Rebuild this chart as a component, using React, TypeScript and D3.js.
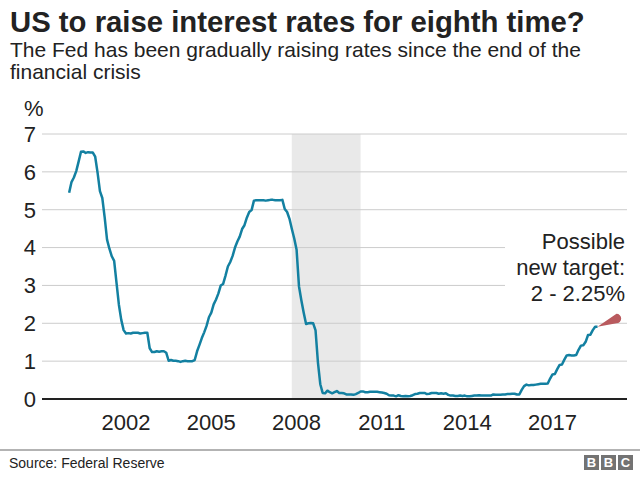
import React from "react";
import * as d3 from "d3";

// Effective federal funds rate, monthly averages (%), Jan 2000 onwards
const years = [2000, 2001, 2002, 2003, 2004, 2005, 2006, 2007, 2008, 2009, 2010, 2011, 2012, 2013, 2014, 2015, 2016, 2017, 2018];
const monthlyRates: number[][] = [
  [5.45, 5.73, 5.85, 6.02, 6.27, 6.53, 6.54, 6.5, 6.52, 6.51, 6.51, 6.4],
  [5.98, 5.49, 5.31, 4.8, 4.21, 3.97, 3.77, 3.65, 3.07, 2.49, 2.09, 1.82],
  [1.73, 1.74, 1.73, 1.75, 1.75, 1.75, 1.73, 1.74, 1.75, 1.75, 1.34, 1.24],
  [1.24, 1.26, 1.25, 1.26, 1.26, 1.22, 1.01, 1.03, 1.01, 1.01, 1.0, 0.98],
  [1.0, 1.01, 1.0, 1.0, 1.0, 1.03, 1.26, 1.43, 1.61, 1.76, 1.93, 2.16],
  [2.28, 2.5, 2.63, 2.79, 3.0, 3.04, 3.26, 3.5, 3.62, 3.78, 4.0, 4.16],
  [4.29, 4.49, 4.59, 4.79, 4.94, 4.99, 5.24, 5.25, 5.25, 5.25, 5.25, 5.24],
  [5.25, 5.26, 5.26, 5.25, 5.25, 5.25, 5.26, 5.02, 4.94, 4.76, 4.49, 4.24],
  [3.94, 2.98, 2.61, 2.28, 1.98, 2.0, 2.01, 2.0, 1.81, 0.97, 0.39, 0.16],
  [0.15, 0.22, 0.18, 0.15, 0.18, 0.21, 0.16, 0.16, 0.15, 0.12, 0.12, 0.12],
  [0.11, 0.13, 0.16, 0.2, 0.2, 0.18, 0.18, 0.19, 0.19, 0.19, 0.19, 0.18],
  [0.17, 0.16, 0.14, 0.1, 0.09, 0.09, 0.07, 0.1, 0.08, 0.07, 0.08, 0.07],
  [0.08, 0.1, 0.13, 0.14, 0.16, 0.16, 0.16, 0.13, 0.14, 0.16, 0.16, 0.16],
  [0.14, 0.15, 0.14, 0.15, 0.11, 0.09, 0.09, 0.08, 0.08, 0.09, 0.08, 0.09],
  [0.07, 0.07, 0.08, 0.09, 0.09, 0.1, 0.09, 0.09, 0.09, 0.09, 0.09, 0.12],
  [0.11, 0.11, 0.11, 0.12, 0.12, 0.13, 0.13, 0.14, 0.14, 0.12, 0.12, 0.24],
  [0.34, 0.38, 0.36, 0.37, 0.37, 0.38, 0.39, 0.4, 0.4, 0.4, 0.41, 0.54],
  [0.65, 0.66, 0.79, 0.9, 0.91, 1.04, 1.15, 1.16, 1.15, 1.15, 1.16, 1.3],
  [1.41, 1.42, 1.51, 1.69, 1.7, 1.82, 1.91, 1.91],
];

// Financial crisis band (decimal years)
const crisisPeriod = [2007.83, 2010.25];

// Possible new target range after the next rise
const targetRange = [2.0, 2.25];
const targetDate = 2019.25;
const targetLabel = ["Possible", "new target:", "2 - 2.25%"];

const yTicks = [0, 1, 2, 3, 4, 5, 6, 7];
const xTicks = [2002, 2005, 2008, 2011, 2014, 2017];

const FONT = "'Liberation Sans', Arial, Helvetica, sans-serif";
const W = 640;
const H = 477;

type Pt = { t: number; v: number };

export default function App() {
  const points: Pt[] = [];
  years.forEach((yr, i) => {
    monthlyRates[i].forEach((v, m) => points.push({ t: yr + m / 12, v }));
  });

  const x = d3.scaleLinear().domain([2002, 2017]).range([126, 552.5]);
  const y = d3.scaleLinear().domain([0, 7]).range([399, 134]);

  const gridLeft = 42;
  const gridRight = 627;
  const labelLeft = 505;
  const labelTop = 225;
  const labelBottom = 305;

  const line = d3
    .line<Pt>()
    .x((d) => x(d.t))
    .y((d) => y(d.v))
    .curve(d3.curveLinear);

  const last = points[points.length - 1];
  const x0 = x(last.t);
  const y0 = y(last.v);
  const x1 = x(targetDate);
  const yHi = y(targetRange[1]);
  const yLo = y(targetRange[0]);
  const r = (yLo - yHi) / 2;
  const wedge = `M${x0},${y0} L${x1},${yHi} A${r},${r} 0 0 1 ${x1},${yLo} Z`;

  return (
    <svg
      width={W}
      height={H}
      style={{ position: "absolute", left: 0, top: 0, background: "#fff" }}
      fontFamily={FONT}
    >
      <rect x={0} y={0} width={W} height={H} fill="#fff" />
      <text x={10} y={32} fontSize={29.3} fontWeight="bold" fill="#222">
        US to raise interest rates for eighth time?
      </text>
      <text x={10} y={57} fontSize={21} fill="#222">
        The Fed has been gradually raising rates since the end of the
      </text>
      <text x={10} y={79} fontSize={21} fill="#222">
        financial crisis
      </text>

      {/* crisis shading */}
      <rect
        x={x(crisisPeriod[0])}
        y={y(7)}
        width={x(crisisPeriod[1]) - x(crisisPeriod[0])}
        height={y(0) - y(7)}
        fill="#e9e9e9"
      />

      {/* gridlines and y labels */}
      {yTicks.map((t) => {
        const yy = y(t);
        const cut = yy > labelTop && yy < labelBottom;
        return (
          <g key={t}>
            {t > 0 && (
              <line
                x1={gridLeft}
                x2={cut ? labelLeft : gridRight}
                y1={yy}
                y2={yy}
                stroke="#cccccc"
                strokeWidth={1}
              />
            )}
            <text x={36} y={yy} dy="0.36em" textAnchor="end" fontSize={22} fill="#222">
              {t}
            </text>
          </g>
        );
      })}
      <text x={24} y={116} fontSize={22} fill="#222">
        %
      </text>

      {/* x labels */}
      {xTicks.map((t) => (
        <text key={t} x={x(t)} y={430} textAnchor="middle" fontSize={22} fill="#222">
          {t}
        </text>
      ))}

      {/* rate line */}
      <path d={line(points) ?? ""} fill="none" stroke="#1380a1" strokeWidth={2.5} strokeLinejoin="round" />

      {/* target wedge */}
      <path d={wedge} fill="#b95a5e" />

      {/* baseline */}
      <line x1={gridLeft} x2={gridRight} y1={y(0)} y2={y(0)} stroke="#222" strokeWidth={2} />

      {/* annotation */}
      {targetLabel.map((s, i) => (
        <text key={s} x={625} y={249 + i * 26} textAnchor="end" fontSize={22} fill="#222">
          {s}
        </text>
      ))}

      {/* footer */}
      <line x1={0} x2={W} y1={450} y2={450} stroke="#b3b3b3" strokeWidth={2} />
      <text x={9} y={468} fontSize={14} fill="#222">
        Source: Federal Reserve
      </text>
      {["B", "B", "C"].map((c, i) => (
        <g key={i}>
          <rect x={584 + i * 17} y={455} width={15} height={15} fill="#737373" />
          <text
            x={584 + i * 17 + 7.5}
            y={467}
            textAnchor="middle"
            fontSize={13}
            fontWeight="bold"
            fill="#fff"
          >
            {c}
          </text>
        </g>
      ))}
    </svg>
  );
}
